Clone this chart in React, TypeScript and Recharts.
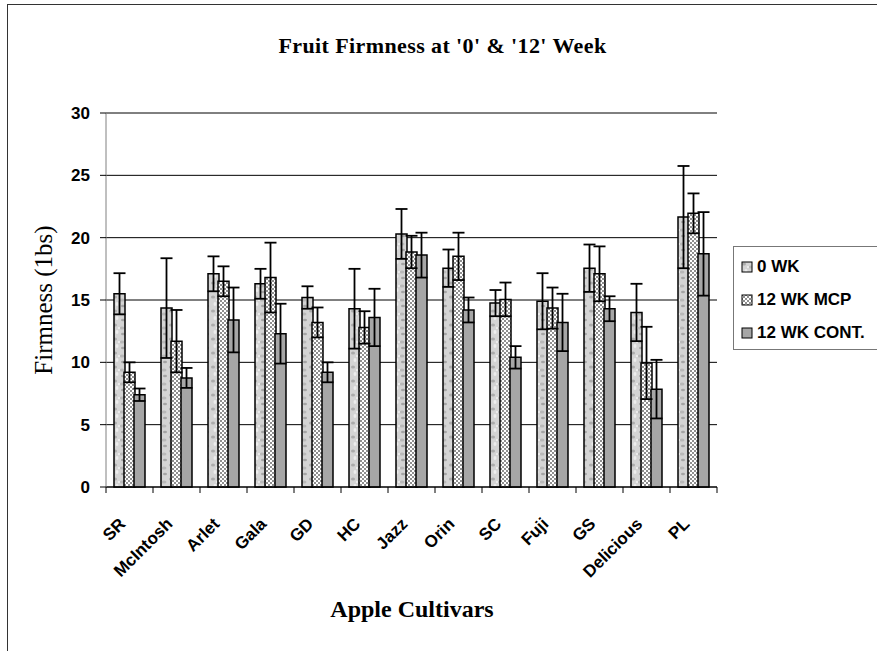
import React from "react";
import { BarChart, Bar, XAxis, YAxis, CartesianGrid, ErrorBar } from "recharts";

const cultivars = ["SR", "McIntosh", "Arlet", "Gala", "GD", "HC", "Jazz", "Orin", "SC", "Fuji", "GS", "Delicious", "PL"];
const week0 = [15.5, 14.35, 17.1, 16.3, 15.2, 14.3, 20.3, 17.55, 14.75, 14.9, 17.55, 14.0, 21.65];
const week0Err = [1.65, 4.0, 1.4, 1.2, 0.9, 3.2, 2.0, 1.5, 1.05, 2.25, 1.9, 2.3, 4.1];
const week12Mcp = [9.2, 11.7, 16.5, 16.8, 13.2, 12.8, 18.85, 18.5, 15.05, 14.35, 17.1, 9.95, 21.95];
const week12McpErr = [0.8, 2.5, 1.2, 2.8, 1.2, 1.3, 1.3, 1.9, 1.35, 1.65, 2.2, 2.9, 1.6];
const week12Cont = [7.4, 8.75, 13.4, 12.3, 9.2, 13.6, 18.6, 14.2, 10.4, 13.2, 14.3, 7.85, 18.7];
const week12ContErr = [0.5, 0.8, 2.6, 2.4, 0.8, 2.3, 1.8, 1.0, 0.9, 2.3, 1.0, 2.35, 3.35];
const yTicks = [0, 5, 10, 15, 20, 25, 30];

const legendItems = ["0 WK", "12 WK MCP", "12 WK CONT."];

const data = cultivars.map((name, i) => ({
  name,
  wk0: week0[i],
  wk0Err: week0Err[i],
  mcp: week12Mcp[i],
  mcpErr: week12McpErr[i],
  cont: week12Cont[i],
  contErr: week12ContErr[i],
}));

const SANS = "'Liberation Sans', Arial, sans-serif";
const SERIF = "'Liberation Serif', 'Times New Roman', serif";
const BAND = 611 / cultivars.length;

function Patterns({ prefix }: { prefix: string }) {
  return (
    <defs>
      <pattern id={`${prefix}-mottle`} width="14" height="14" patternUnits="userSpaceOnUse">
        <rect width="14" height="14" fill="#d4d4d4" />
        <ellipse cx="3" cy="3" rx="2" ry="1.5" fill="#ababab" />
        <ellipse cx="10" cy="6" rx="2.5" ry="1.5" fill="#b8b8b8" />
        <ellipse cx="5" cy="10" rx="1.5" ry="2" fill="#ededed" />
        <ellipse cx="11" cy="12" rx="2" ry="1.2" fill="#a4a4a4" />
        <ellipse cx="7" cy="6" rx="1.2" ry="1" fill="#f0f0f0" />
      </pattern>
      <pattern id={`${prefix}-dots`} width="4" height="4" patternUnits="userSpaceOnUse">
        <rect width="4" height="4" fill="#ffffff" />
        <circle cx="1" cy="1" r="0.8" fill="#000" />
        <circle cx="3" cy="3" r="0.8" fill="#000" />
      </pattern>
    </defs>
  );
}

const fills = ["mottle", "dots", "solid"];

function XTick(props: any) {
  const { x, y, payload, index } = props;
  const last = index === cultivars.length - 1;
  return (
    <g>
      <line x1={x - BAND / 2} y1={y - 8} x2={x - BAND / 2} y2={y - 2} stroke="#000" />
      {last && <line x1={x + BAND / 2} y1={y - 8} x2={x + BAND / 2} y2={y - 2} stroke="#000" />}
      <text
        x={x - 3}
        y={y + 30}
        transform={`rotate(-45, ${x - 3}, ${y + 30})`}
        textAnchor="end"
        fontFamily={SANS}
        fontWeight="bold"
        fontSize={17}
        fill="#000"
      >
        {payload.value}
      </text>
    </g>
  );
}

export default function App() {
  return (
    <div style={{ position: "absolute", left: 0, top: 0, width: 877, height: 651, background: "#fff", overflow: "hidden" }}>
      <div style={{ position: "absolute", left: 7, top: 4, width: 900, height: 700, border: "1px solid #333" }} />
      <div
        style={{
          position: "absolute",
          left: 0,
          width: 877,
          top: 33,
          textAlign: "center",
          paddingLeft: 4,
          fontFamily: SERIF,
          fontWeight: "bold",
          fontSize: 22,
          letterSpacing: 0.4,
        }}
      >
        Fruit Firmness at '0' &amp; '12' Week
      </div>
      <BarChart
        width={877}
        height={651}
        data={data}
        margin={{ top: 113, right: 160, bottom: 0, left: 0 }}
        barSize={11}
        barGap={-1}
        style={{ position: "absolute", left: 0, top: 0 }}
      >
        <Patterns prefix="c" />
        <CartesianGrid horizontal vertical={false} stroke="#000" strokeWidth={1} />
        <XAxis
          dataKey="name"
          height={164}
          interval={0}
          tick={<XTick />}
          tickLine={false}
          axisLine={{ stroke: "#000" }}
        />
        <YAxis
          width={106}
          domain={[0, 30]}
          ticks={yTicks}
          interval={0}
          tickSize={6}
          tickLine={{ stroke: "#000" }}
          axisLine={{ stroke: "#808080" }}
          tick={{ fontFamily: SANS, fontWeight: "bold", fontSize: 17, fill: "#000" }}
          tickMargin={10}
        />
        <Bar dataKey="wk0" fill="url(#c-mottle)" stroke="#000" strokeWidth={1.5} isAnimationActive={false}>
          <ErrorBar dataKey="wk0Err" width={6} stroke="#000" strokeWidth={1.8} direction="y" />
        </Bar>
        <Bar dataKey="mcp" fill="url(#c-dots)" stroke="#000" strokeWidth={1.5} isAnimationActive={false}>
          <ErrorBar dataKey="mcpErr" width={6} stroke="#000" strokeWidth={1.8} direction="y" />
        </Bar>
        <Bar dataKey="cont" fill="#a6a6a6" stroke="#000" strokeWidth={1.5} isAnimationActive={false}>
          <ErrorBar dataKey="contErr" width={6} stroke="#000" strokeWidth={1.8} direction="y" />
        </Bar>
      </BarChart>
      <div
        style={{
          position: "absolute",
          left: 44,
          top: 300,
          transform: "translate(-50%, -50%) rotate(-90deg)",
          whiteSpace: "nowrap",
          fontFamily: SERIF,
          fontSize: 25,
        }}
      >
        Firmness (1bs)
      </div>
      <div
        style={{
          position: "absolute",
          left: 292,
          width: 240,
          top: 596,
          textAlign: "center",
          fontFamily: SERIF,
          fontWeight: "bold",
          fontSize: 24,
        }}
      >
        Apple Cultivars
      </div>
      <div
        style={{
          position: "absolute",
          left: 733,
          top: 246,
          width: 160,
          height: 102,
          border: "1px solid #777",
          background: "#fff",
        }}
      >
        {legendItems.map((label, i) => (
          <div
            key={label}
            style={{ position: "absolute", left: 7, top: 20 - 11 + i * 33, height: 22, display: "flex", alignItems: "center" }}
          >
            <svg width={12} height={12} style={{ marginRight: 4 }}>
              <Patterns prefix={`lg${i}`} />
              <rect
                x={1}
                y={1}
                width={10}
                height={10}
                fill={fills[i] === "solid" ? "#a6a6a6" : `url(#lg${i}-${fills[i]})`}
                stroke="#000"
                strokeWidth={1}
              />
            </svg>
            <span style={{ fontFamily: SANS, fontWeight: "bold", fontSize: 17, whiteSpace: "nowrap" }}>{label}</span>
          </div>
        ))}
      </div>
    </div>
  );
}
